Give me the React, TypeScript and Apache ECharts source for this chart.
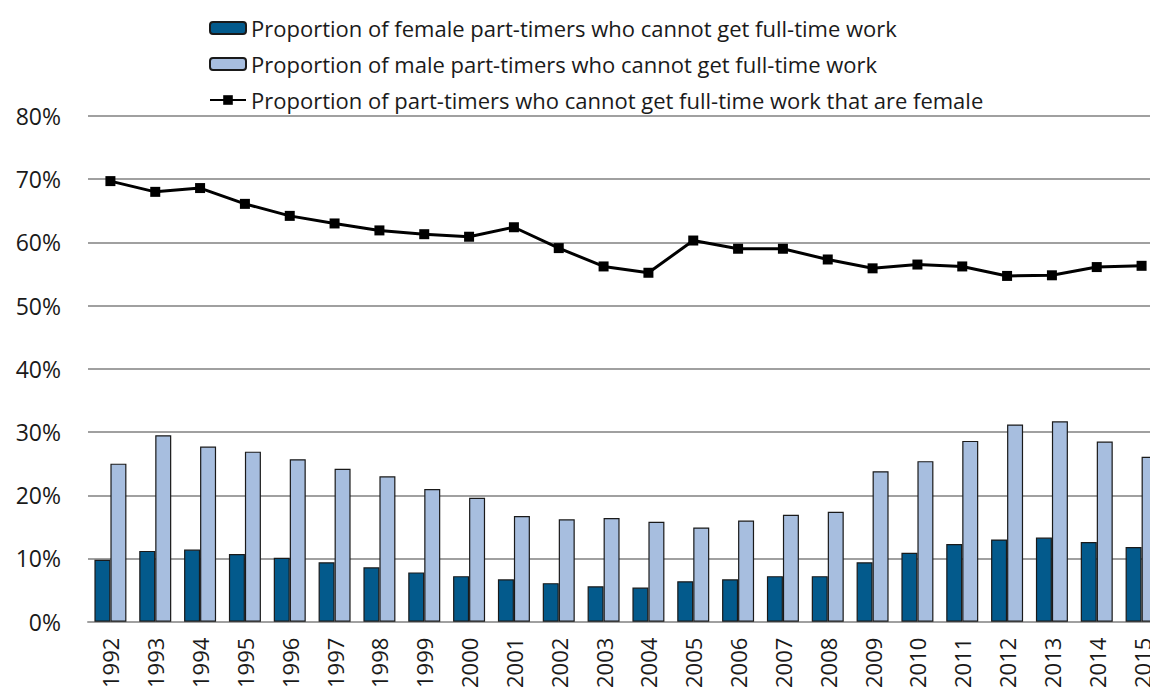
import React, { useEffect, useRef } from "react";
import * as echarts from "echarts";

const years = [
  "1992", "1993", "1994", "1995", "1996", "1997", "1998", "1999", "2000", "2001", "2002", "2003",
  "2004", "2005", "2006", "2007", "2008", "2009", "2010", "2011", "2012", "2013", "2014", "2015",
];

const femaleShare = [
  9.8, 11.2, 11.4, 10.7, 10.1, 9.4, 8.6, 7.8, 7.2, 6.7, 6.1, 5.6,
  5.4, 6.4, 6.7, 7.2, 7.2, 9.4, 10.9, 12.3, 13.0, 13.3, 12.6, 11.8,
];

const maleShare = [
  25.0, 29.5, 27.7, 26.9, 25.7, 24.2, 23.0, 21.0, 19.6, 16.7, 16.2, 16.4,
  15.8, 14.9, 16.0, 16.9, 17.4, 23.8, 25.4, 28.6, 31.2, 31.7, 28.5, 26.1,
];

const femaleOfInvoluntary = [
  69.7, 68.0, 68.6, 66.1, 64.2, 63.0, 61.9, 61.3, 60.9, 62.4, 59.1, 56.2,
  55.2, 60.3, 59.0, 59.0, 57.3, 55.9, 56.5, 56.2, 54.7, 54.8, 56.1, 56.3,
];

const seriesNames = [
  "Proportion of female part-timers who cannot get full-time work",
  "Proportion of male part-timers who cannot get full-time work",
  "Proportion of part-timers who cannot get full-time work that are female",
];

export default function App() {
  const ref = useRef<HTMLDivElement>(null);

  useEffect(() => {
    document.body.style.margin = "0";
    if (!ref.current) return;
    const chart = echarts.init(ref.current, null, { renderer: "svg" });
    chart.setOption({
      animation: false,
      backgroundColor: "#ffffff",
      textStyle: { fontFamily: "Open Sans" },
      legend: {
        orient: "vertical",
        left: 209,
        top: 17,
        padding: 0,
        itemWidth: 36,
        itemHeight: 12,
        itemGap: 14,
        textStyle: { fontFamily: "Open Sans", fontSize: 22, color: "#1a1a1a" },
        data: seriesNames,
      },
      grid: { left: 88, right: 0, top: 116, bottom: 65, containLabel: false },
      xAxis: {
        type: "category",
        data: years,
        axisLine: { show: true, lineStyle: { color: "#a0a0a0", width: 2 } },
        axisTick: { show: false },
        axisLabel: {
          rotate: 90,
          margin: 16,
          fontSize: 22,
          color: "#1a1a1a",
          fontFamily: "Open Sans",
        },
      },
      yAxis: {
        type: "value",
        min: 0,
        max: 80,
        interval: 10,
        axisLine: { show: false },
        axisTick: { show: false },
        axisLabel: {
          formatter: "{value}%",
          margin: 27,
          fontSize: 23,
          color: "#1a1a1a",
          fontFamily: "Open Sans",
        },
        splitLine: { lineStyle: { color: "#a0a0a0", width: 2 } },
      },
      series: [
        {
          name: seriesNames[0],
          type: "bar",
          data: femaleShare,
          barWidth: 16,
          barGap: "0%",
          itemStyle: { color: "#035a8c", borderColor: "#1a1a1a", borderWidth: 1.2 },
        },
        {
          name: seriesNames[1],
          type: "bar",
          data: maleShare,
          barWidth: 16,
          barGap: "0%",
          itemStyle: { color: "#a7bedf", borderColor: "#1a1a1a", borderWidth: 1.2 },
        },
        {
          name: seriesNames[2],
          type: "line",
          data: femaleOfInvoluntary,
          symbol: "rect",
          symbolSize: 10,
          lineStyle: { color: "#000000", width: 3 },
          itemStyle: { color: "#000000" },
        },
      ],
    });
    return () => chart.dispose();
  }, []);

  return (
    <div style={{ width: 1150, height: 691, overflow: "hidden" }}>
      <div ref={ref} style={{ width: 1164, height: 691 }} />
    </div>
  );
}
